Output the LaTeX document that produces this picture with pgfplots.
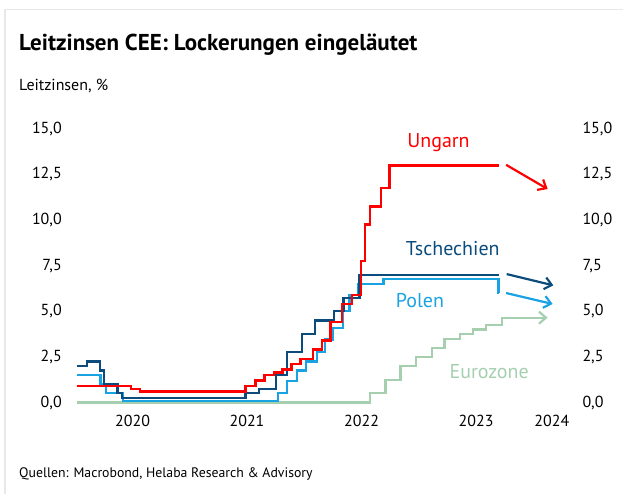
\documentclass[border=0pt]{standalone}
\usepackage{fontspec}
\setmainfont{PT Sans}
\usepackage{pgfplots}
\pgfplotsset{compat=1.18}
\usetikzlibrary{arrows.meta}

\definecolor{hu}{HTML}{FF0000}
\definecolor{cz}{HTML}{0B4C7C}
\definecolor{pl}{HTML}{1AA3E2}
\definecolor{ez}{HTML}{A5CFAE}

% x runs in picture units (about one per pixel), y in percent
\pgfplotsset{base/.style={
  scale only axis, width=513pt, height=274pt,
  xmin=66, xmax=579, ymin=0, ymax=15,
  ytick={0,2.5,...,15}, clip=false,
  axis line style={draw=none}, major tick length=0pt,
  yticklabel style={font=\fontsize{16}{18}\selectfont, inner sep=0pt},
  xticklabel style={font=\fontsize{16}{18}\selectfont, inner sep=0pt, yshift=-12pt},
  /pgf/number format/.cd, use comma, fixed, fixed zerofill, precision=1, assume math mode=true}}

\begin{document}
\begin{tikzpicture}[x=1pt,y=1pt]
\path (0,0) rectangle (624,495);
\draw[gray!18, line width=1.5pt] (5,0) -- (5,485.7) -- (624,485.7);
\node[anchor=base west, inner sep=0pt, font=\fontsize{23}{27}\selectfont\bfseries] at (19,444) {Leitzinsen CEE: Lockerungen eingeläutet};
\node[anchor=base west, inner sep=0pt, font=\fontsize{16}{19}\selectfont] at (19,404.3) {Leitzinsen, \%};
\node[anchor=base west, inner sep=0pt, font=\fontsize{13.8}{16}\selectfont] at (19,16.5) {Quellen: Macrobond, Helaba Research \& Advisory};

\begin{axis}[base, at={(66pt,92pt)}, anchor=south west,
  xtick={132.7,247.3,362,476.7,552.5}, xticklabels={2020,2021,2022,2023,2024},
  yticklabel style={xshift=-4pt}]
% Eurozone
\addplot[ez, line width=2.2pt, const plot] coordinates {
  (76.7,0) (370.7,0.5) (386,1.25) (401,2.0) (416.7,2.5) (432.3,3.0) (445,3.5)
  (460.7,3.75) (473.3,4.0) (486.7,4.25) (502.7,4.6) (504,4.6)};
% Polen
\addplot[pl, line width=2.2pt, const plot] coordinates {
  (76.7,1.5) (100.7,1.0) (106,0.5) (123.3,0.1) (278.3,0.5) (287,1.2) (297,1.75)
  (306,2.25) (317,2.75) (325,3.45) (333.3,4.1) (343.3,5.0) (350,5.9) (358.3,6.5)
  (384,6.75) (499,6.0) (500,6.0)};
% Tschechien
\addplot[cz, line width=2.2pt, const plot] coordinates {
  (76.7,2.0) (87.3,2.25) (100,1.75) (104,1.0) (117.7,0.5) (122.3,0.25)
  (245.7,0.5) (259,0.75) (276,1.5) (287.7,2.75) (302.7,3.75) (315.7,4.5)
  (334,5.0) (344,5.75) (360,7.0) (500,7.0)};
% Ungarn
\addplot[hu, line width=2.4pt, const plot] coordinates {
  (76.7,0.9) (131,0.75) (140,0.6) (245.7,0.9) (255.7,1.2) (265,1.5) (274.3,1.65)
  (282.7,1.8) (291.7,2.1) (301,2.4) (313.3,2.9) (322.3,3.4) (330.7,4.4)
  (342.3,5.4) (352.7,5.9) (361.7,7.75) (365.7,9.75) (370.7,10.75) (381.7,11.75)
  (390,13.0) (500,13.0)};
% Ausblick-Pfeile
\addplot[hu, line width=2.2pt, -{Straight Barb[length=7pt,width=12pt]}] coordinates {(506.7,13.03) (548.3,11.7)};
\addplot[cz, line width=2.2pt, -{Straight Barb[length=7pt,width=12pt]}] coordinates {(507.3,7.04) (554,6.42)};
\addplot[pl, line width=2.2pt, -{Straight Barb[length=7pt,width=12pt]}] coordinates {(506.7,6.0) (553.3,5.4)};
\addplot[ez, line width=2.2pt, -{Straight Barb[length=7pt,width=12pt]}] coordinates {(504,4.65) (548.3,4.65)};

\node[text=hu, font=\fontsize{20}{24}\selectfont] at (axis cs:439,14.23) {Ungarn};
\node[text=cz, font=\fontsize{20}{24}\selectfont] at (axis cs:453.3,8.43) {Tschechien};
\node[text=pl, font=\fontsize{20}{24}\selectfont] at (axis cs:420.5,5.61) {Polen};
\node[text=ez, font=\fontsize{20}{24}\selectfont] at (axis cs:489.7,1.67) {Eurozone};
\end{axis}

\begin{axis}[base, at={(66pt,92pt)}, anchor=south west,
  xtick=\empty, ytick pos=right, yticklabel pos=right,
  yticklabel style={xshift=4pt}]
\end{axis}
\end{tikzpicture}
\end{document}
